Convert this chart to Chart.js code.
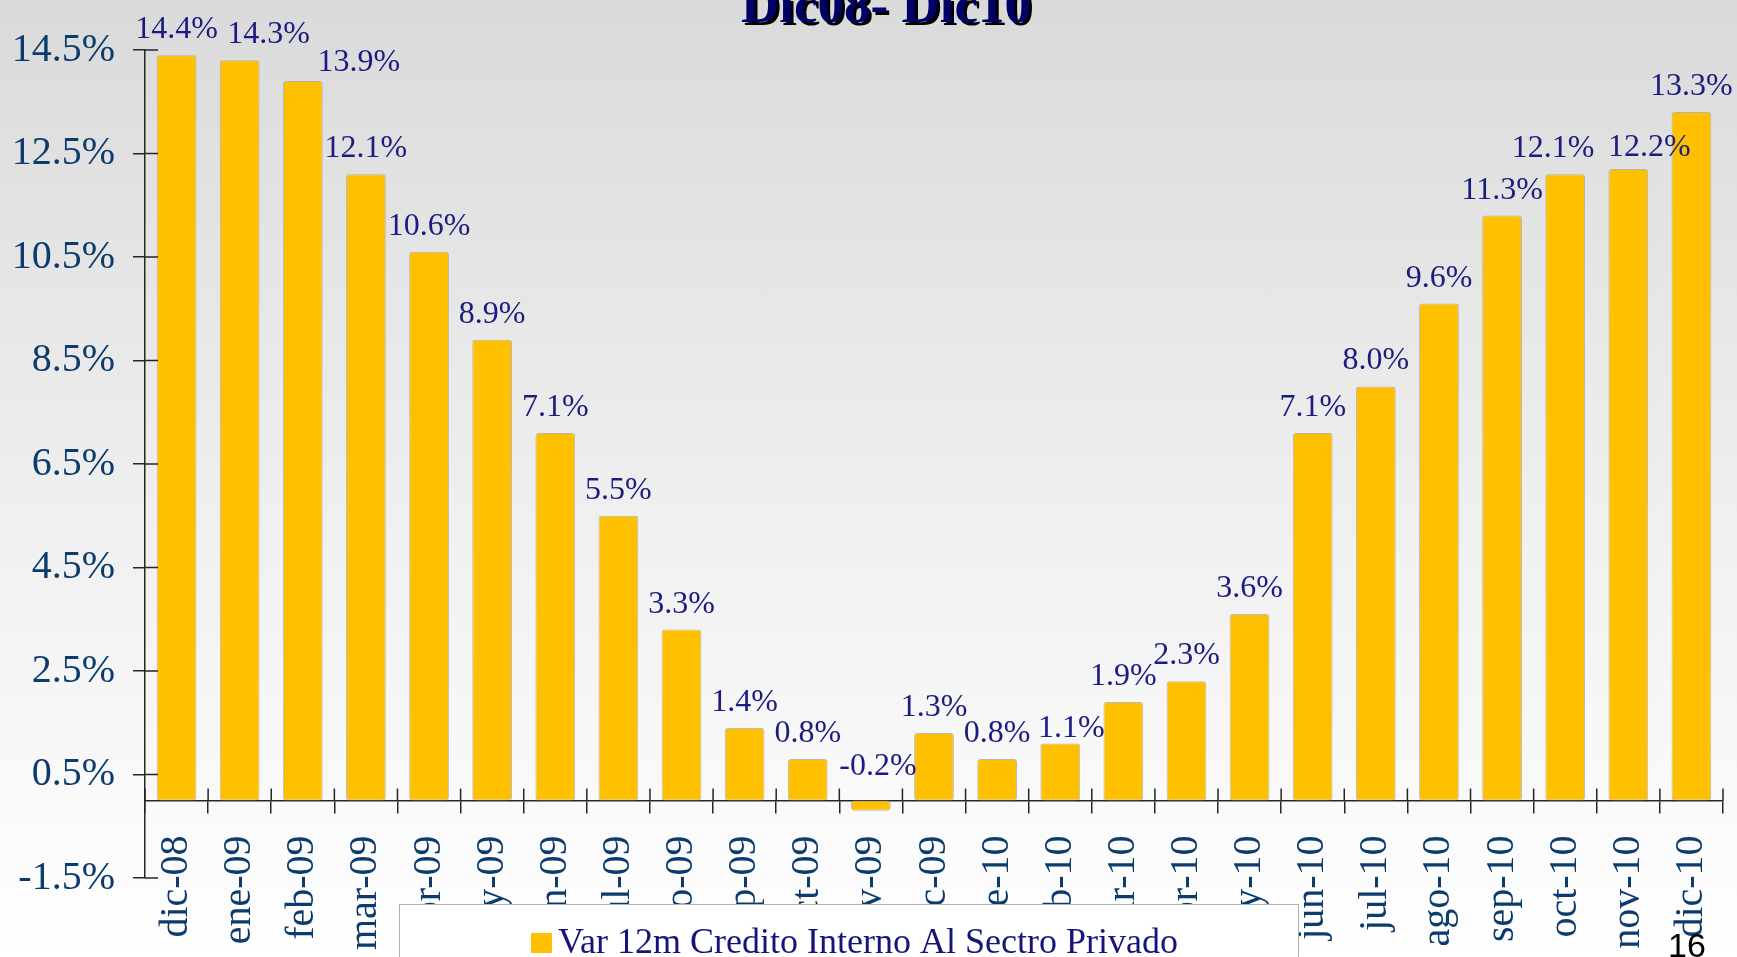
<!DOCTYPE html>
<html>
<head>
<meta charset="utf-8">
<script src="https://cdn.jsdelivr.net/npm/chart.js@4/dist/chart.umd.min.js"></script>
<style>
  html, body { margin: 0; padding: 0; }
  body { width: 1737px; height: 957px; overflow: hidden;
         background: linear-gradient(to bottom, #dadada 0%, #f0f0f0 55%, #ffffff 100%); }
  #wrap { position: absolute; left: 0; top: 0; width: 1737px; height: 957px; }
</style>
</head>
<body>
<div id="wrap"><canvas id="c" width="1737" height="957"></canvas></div>
<script>
// ---- data ----
const categories = ['dic-08','ene-09','feb-09','mar-09','abr-09','may-09','jun-09','jul-09','ago-09','sep-09','oct-09','nov-09','dic-09',
                    'ene-10','feb-10','mar-10','abr-10','may-10','jun-10','jul-10','ago-10','sep-10','oct-10','nov-10','dic-10'];
const creditGrowth = [14.4, 14.3, 13.9, 12.1, 10.6, 8.9, 7.1, 5.5, 3.3, 1.4, 0.8, -0.2, 1.3,
                      0.8, 1.1, 1.9, 2.3, 3.6, 7.1, 8.0, 9.6, 11.3, 12.1, 12.2, 13.3];
const yTickValues = [-1.5, 0.5, 2.5, 4.5, 6.5, 8.5, 10.5, 12.5, 14.5];
const seriesName = 'Var 12m Credito Interno Al Sectro Privado';
const chartTitle = 'Dic08- Dic10';
const pageNumber = '16';

// ---- presentation ----
const SERIF = '"Liberation Serif", "Times New Roman", serif';
const labelNudge = {1: [29, 0], 2: [56, 7], 11: [7, 0], 14: [11, 11], 22: [-12, 0], 23: [21, 4]};

const innerTicks = {
  id: 'innerTicks',
  afterDraw(chart) {
    const ctx = chart.ctx, xs = chart.scales.x, ys = chart.scales.y;
    const zero = ys.getPixelForValue(0);
    ctx.save();
    ctx.strokeStyle = '#262626';
    ctx.lineWidth = 1.5;
    ctx.beginPath();
    yTickValues.forEach(v => {
      const py = ys.getPixelForValue(v);
      ctx.moveTo(xs.left, py); ctx.lineTo(xs.left + 13, py);
    });
    for (let i = 0; i <= categories.length; i++) {
      const px = xs.getPixelForValue(i - 0.5);
      ctx.moveTo(px, zero); ctx.lineTo(px, zero - 12);
    }
    ctx.stroke();
    ctx.restore();
  }
};

const valueLabels = {
  id: 'valueLabels',
  afterDatasetsDraw(chart) {
    const ctx = chart.ctx;
    const meta = chart.getDatasetMeta(0);
    ctx.save();
    ctx.font = '32px ' + SERIF;
    ctx.fillStyle = '#1b1b82';
    ctx.textAlign = 'center';
    ctx.textBaseline = 'alphabetic';
    meta.data.forEach((bar, i) => {
      const v = creditGrowth[i];
      const n = labelNudge[i] || [0, 0];
      const top = v >= 0 ? bar.y - 17 : bar.base - 25;
      ctx.fillText(v.toFixed(1) + '%', bar.x + n[0], top + n[1]);
    });
    ctx.restore();
  }
};

const decorations = {
  id: 'decorations',
  afterDraw(chart) {
    const ctx = chart.ctx;
    ctx.save();
    // legend box (drawn over the axis labels)
    ctx.fillStyle = '#ffffff';
    ctx.fillRect(399.5, 904.5, 899, 70);
    ctx.strokeStyle = '#b0b0b0';
    ctx.lineWidth = 1;
    ctx.strokeRect(399.5, 904.5, 899, 70);
    ctx.fillStyle = '#FFC000';
    ctx.fillRect(531, 933, 21, 20);
    ctx.font = '36px ' + SERIF;
    ctx.fillStyle = '#14147a';
    ctx.textAlign = 'left';
    ctx.textBaseline = 'alphabetic';
    ctx.fillText(chart.data.datasets[0].label, 558, 953);
    // page number
    ctx.font = '34px "Liberation Sans", Arial, sans-serif';
    ctx.fillStyle = '#000000';
    ctx.fillText(pageNumber, 1668, 957);
    // title (cut at top)
    ctx.font = 'bold 53px ' + SERIF;
    ctx.textAlign = 'center';
    ctx.fillStyle = '#000000';
    ctx.fillText(chartTitle, 889, 25);
    ctx.fillStyle = '#000066';
    ctx.fillText(chartTitle, 886, 22);
    ctx.restore();
  }
};

new Chart(document.getElementById('c'), {
  type: 'bar',
  data: {
    labels: categories,
    datasets: [{
      label: seriesName,
      data: creditGrowth,
      backgroundColor: '#FFC000',
      borderColor: 'rgba(160,160,160,0.7)',
      borderWidth: 1,
      borderSkipped: false,
      borderRadius: 3,
      barPercentage: 0.63,
      categoryPercentage: 1.0
    }]
  },
  options: {
    responsive: false,
    animation: false,
    devicePixelRatio: 1,
    layout: { padding: { left: 0, right: 14, top: 50, bottom: 79 } },
    plugins: { legend: { display: false }, title: { display: false }, tooltip: { enabled: false } },
    scales: {
      y: {
        min: -1.5, max: 14.5,
        afterFit(s) { s.width = 145; s.paddingTop = 0; s.paddingBottom = 0; },
        afterBuildTicks(s) { s.ticks = yTickValues.map(v => ({ value: v })); },
        ticks: {
          padding: 18,
          color: '#0c3b6d',
          font: { family: SERIF, size: 40 },
          callback: v => Number(v).toFixed(1) + '%'
        },
        grid: { drawOnChartArea: false, drawTicks: true, tickLength: 12, color: '#262626', lineWidth: 1.5 },
        border: { display: true, color: '#262626', width: 1.5 }
      },
      x: {
        axis: 'x',
        position: { y: 0 },
        afterFit(s) { s.height = 0; s.paddingLeft = 0; s.paddingRight = 0; },
        ticks: {
          autoSkip: false,
          minRotation: 90, maxRotation: 90,
          padding: 23,
          color: '#0c3b6d',
          font: { family: SERIF, size: 40 }
        },
        grid: { drawOnChartArea: false, drawTicks: true, tickLength: 12, offset: true, color: '#262626', lineWidth: 1.5 },
        border: { display: true, color: '#262626', width: 1.5 }
      }
    }
  },
  plugins: [valueLabels, innerTicks, decorations]
});
</script>
</body>
</html>
